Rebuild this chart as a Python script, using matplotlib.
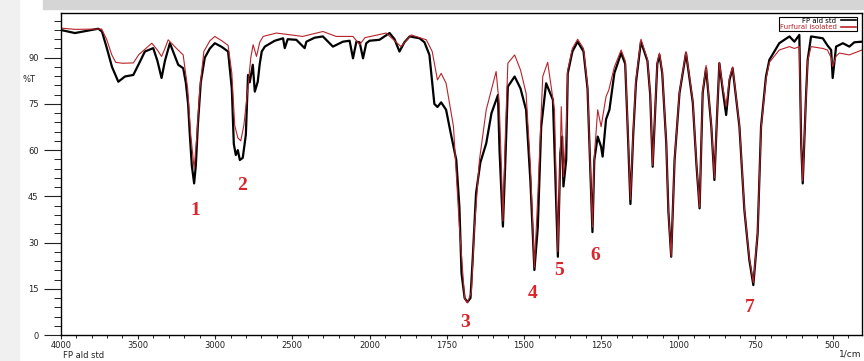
#FTIR spectrum, FP ald std vs isolated sample
#Wavenumber axis with the usual 2x scale change at 2000 1/cm

import matplotlib
matplotlib.use('Agg')
import matplotlib.pyplot as plt
import numpy as np
from matplotlib.ticker import FixedLocator, MultipleLocator
from matplotlib.lines import Line2D
from matplotlib.patches import Rectangle

#Black spectrum (FP ald std): wavenumber (1/cm), transmittance (%T)
wn_black = [4000, 3908, 3757, 3733, 3702, 3668, 3627, 3584, 3530, 3494, 3455, 3401, 3374, 3347,
            3325, 3293, 3239, 3207, 3190, 3175, 3164, 3151, 3136, 3125, 3112, 3093, 3067, 3034,
            3002, 2957, 2916, 2892, 2879, 2866, 2853, 2840, 2821, 2801, 2787, 2776, 2756, 2743,
            2724, 2711, 2698, 2678, 2614, 2560, 2549, 2530, 2474, 2420, 2409, 2355, 2302, 2237,
            2172, 2129, 2107, 2085, 2064, 2042, 2021, 2000, 1968, 1935, 1919, 1903, 1887, 1870,
            1838, 1822, 1806, 1790, 1780, 1768, 1752, 1738, 1719, 1709, 1702, 1692, 1683, 1673,
            1666, 1655, 1641, 1622, 1605, 1584, 1579, 1568, 1560, 1552, 1530, 1511, 1493, 1479,
            1466, 1455, 1444, 1428, 1406, 1395, 1390, 1382, 1376, 1372, 1363, 1358, 1343, 1326,
            1307, 1294, 1288, 1278, 1272, 1261, 1250, 1245, 1234, 1223, 1207, 1185, 1172, 1165,
            1155, 1146, 1137, 1121, 1100, 1091, 1083, 1074, 1068, 1061, 1052, 1039, 1032, 1023,
            1012, 996, 975, 953, 941, 931, 921, 910, 893, 883, 875, 867, 856, 845,
            834, 824, 802, 786, 770, 757, 743, 732, 716, 705, 673, 640, 624, 608,
            602, 597, 586, 581, 570, 532, 517, 505, 500, 489, 467, 446, 430, 405]
t_black = [99.0, 98.0, 99.4, 98.5, 93.2, 87.0, 82.2, 83.9, 84.4, 88.0, 92.0, 93.1, 89.0, 83.4,
           89.0, 94.7, 87.7, 86.6, 82.0, 75.0, 65.0, 55.0, 49.2, 55.0, 68.0, 82.0, 90.0, 93.0,
           94.7, 93.5, 92.0, 80.0, 62.0, 58.4, 60.0, 56.8, 57.5, 65.0, 84.4, 82.0, 87.7, 79.0,
           82.2, 88.0, 92.0, 93.6, 95.5, 96.3, 93.1, 96.0, 95.8, 93.1, 95.2, 96.5, 96.9, 93.6,
           95.2, 95.5, 89.8, 95.2, 95.0, 89.8, 94.7, 95.5, 95.8, 98.0, 96.0, 92.0, 95.0, 96.9,
           96.3, 95.0, 90.9, 75.0, 74.0, 75.5, 73.1, 66.0, 56.8, 41.7, 20.0, 12.0, 10.7, 12.0,
           24.4, 46.0, 56.0, 62.2, 72.0, 77.9, 60.0, 35.2, 56.8, 80.6, 83.9, 80.0, 73.1, 50.0,
           21.1, 35.0, 67.6, 81.7, 76.3, 40.6, 25.4, 59.0, 64.4, 48.2, 56.8, 84.9, 92.0, 95.2,
           92.0, 80.0, 62.3, 33.4, 56.8, 64.4, 61.1, 57.9, 70.0, 73.1, 85.0, 91.5, 88.0, 70.0,
           42.5, 65.0, 82.0, 95.2, 89.0, 78.0, 54.6, 75.0, 88.0, 90.9, 85.0, 62.3, 40.0, 25.4,
           56.8, 78.6, 91.5, 75.4, 55.0, 41.1, 78.6, 86.6, 67.6, 50.3, 70.0, 88.2, 79.5, 71.4,
           82.8, 86.6, 67.6, 40.6, 24.4, 16.2, 33.0, 67.6, 83.9, 89.3, 94.7, 96.9, 95.2, 97.4,
           62.2, 49.2, 78.5, 89.3, 96.9, 96.3, 94.0, 92.5, 83.4, 93.6, 94.7, 93.6, 95.0, 95.2]

#Red spectrum (isolated product)
wn_red = [4000, 3908, 3735, 3703, 3670, 3644, 3600, 3530, 3494, 3410, 3374, 3347, 3325, 3304,
          3250, 3207, 3178, 3158, 3136, 3118, 3099, 3073, 3034, 3002, 2957, 2916, 2892, 2873,
          2853, 2834, 2814, 2788, 2769, 2754, 2732, 2711, 2689, 2603, 2433, 2302, 2216, 2107,
          2064, 2030, 1946, 1898, 1865, 1816, 1797, 1786, 1780, 1768, 1752, 1728, 1709, 1692,
          1683, 1670, 1660, 1644, 1622, 1590, 1580, 1573, 1568, 1560, 1552, 1530, 1511, 1493,
          1479, 1466, 1455, 1439, 1423, 1401, 1390, 1383, 1379, 1372, 1363, 1358, 1343, 1326,
          1307, 1294, 1288, 1278, 1272, 1261, 1250, 1234, 1225, 1207, 1185, 1172, 1165, 1155,
          1146, 1137, 1121, 1100, 1091, 1083, 1074, 1068, 1061, 1052, 1039, 1032, 1023, 1012,
          996, 975, 953, 941, 931, 921, 910, 893, 883, 875, 867, 856, 845, 834,
          824, 802, 786, 770, 757, 743, 732, 716, 705, 673, 640, 624, 608, 602,
          597, 586, 581, 570, 532, 517, 505, 500, 489, 478, 446, 405]
t_red = [99.6, 99.2, 99.3, 96.0, 91.0, 88.5, 88.2, 88.3, 91.0, 94.7, 92.5, 90.4, 93.0, 95.8,
         93.0, 90.9, 80.0, 65.0, 54.0, 65.0, 80.0, 92.0, 95.5, 96.9, 95.5, 94.0, 85.0, 68.0,
         64.0, 63.0, 68.0, 80.0, 90.0, 94.2, 90.4, 95.0, 96.9, 98.0, 96.9, 98.5, 96.9, 96.9,
         94.2, 96.5, 98.0, 93.6, 97.4, 95.8, 92.0, 86.0, 82.8, 84.9, 81.7, 67.6, 35.2, 12.0,
         10.4, 14.0, 35.2, 56.8, 73.1, 85.5, 75.0, 55.0, 37.0, 65.0, 88.2, 90.9, 86.0, 78.5,
         55.0, 22.0, 45.0, 83.9, 88.5, 73.1, 27.0, 55.0, 74.1, 51.4, 65.0, 86.0, 93.0, 96.0,
         93.0, 81.0, 63.0, 35.0, 58.0, 73.1, 67.6, 77.4, 79.5, 87.0, 92.5, 89.0, 71.0, 44.0,
         66.0, 83.0, 96.0, 89.5, 78.5, 55.0, 75.5, 88.5, 91.5, 85.5, 62.5, 40.0, 25.5, 57.0,
         79.0, 92.0, 76.0, 55.5, 41.5, 79.0, 87.5, 68.0, 51.0, 70.5, 88.5, 80.5, 74.0, 83.5,
         87.0, 68.0, 41.0, 25.0, 17.0, 33.5, 67.0, 83.0, 88.5, 92.5, 93.6, 93.0, 93.6, 62.0,
         50.0, 78.0, 89.0, 93.6, 93.0, 92.5, 90.0, 87.1, 90.5, 91.5, 90.9, 92.5]

#Numbered peaks: label, wavenumber, %T where the label sits
peak_labels = ['1', '2', '3', '4', '5', '6', '7']
peak_wn = [3131, 2828, 1692, 1472, 1385, 1268, 770]
peak_t = [40.3, 48.4, 4.2, 13.6, 20.8, 25.7, 8.8]

x_major = [4000, 3500, 3000, 2500, 2000, 1750, 1500, 1250, 1000, 750, 500]
x_minor = list(range(3900, 2000, -100)) + list(range(1950, 400, -50))

red = '#b8232a'

#Scale change: half the scale above 2000 1/cm
def forward(w):
    w = np.asarray(w, dtype=float)
    return np.where(w > 2000, 2000 + (w - 2000)/2, w)

def inverse(u):
    u = np.asarray(u, dtype=float)
    return np.where(u > 2000, 2000 + (u - 2000)*2, u)

fig = plt.figure(figsize=(8.64, 3.61), dpi=100)
#grey page remnants around the figure
fig.patches.append(Rectangle((0.05, 0.975), 0.95, 0.025, transform=fig.transFigure,
                             color='#d5d5d5', zorder=0))
fig.patches.append(Rectangle((0.0, 0.0), 0.022, 1.0, transform=fig.transFigure,
                             color='#f0f0f0', zorder=0))

ax = fig.add_axes([0.0703, 0.072, 0.9274, 0.8928])
ax.set_xscale('function', functions=(forward, inverse))

ax.plot(wn_black, t_black, color='black', lw=1.6, label='FP ald std')
ax.plot(wn_red, t_red, color=red, lw=0.8, label='Furfural isolated')

for lab, w, t in zip(peak_labels, peak_wn, peak_t):
    ax.text(w, t, lab, color='#d8262c', fontsize=14, fontweight='bold',
            family='Liberation Serif', ha='center', va='center')

ax.set_xlim(4000, 405)
ax.set_ylim(0, 104.6)
ax.xaxis.set_major_locator(FixedLocator(x_major))
ax.xaxis.set_minor_locator(FixedLocator(x_minor))
ax.set_xticklabels([str(v) for v in x_major])
ax.yaxis.set_major_locator(FixedLocator([0, 15, 30, 45, 60, 75, 90]))
ax.yaxis.set_minor_locator(MultipleLocator(3))

ax.tick_params(axis='both', which='major', labelsize=6, direction='out', colors='#222222')
ax.tick_params(axis='y', which='major', length=12, pad=4)
ax.tick_params(axis='y', which='minor', length=5)
ax.tick_params(axis='x', which='major', length=3, pad=1)
ax.tick_params(axis='x', which='minor', length=2)
for s in ax.spines.values():
    s.set_linewidth(1.0)

fig.text(29/864, 1 - 79/361, '%T', fontsize=6, ha='center', va='center', color='#222222')
fig.text(63/864, 1 - 356/361, 'FP ald std', fontsize=6, ha='left', va='center', color='#222222')
fig.text(861/864, 1 - 354/361, '1/cm', fontsize=6.5, ha='right', va='center', color='#222222')

handles = [Line2D([], [], color='black', lw=1.2), Line2D([], [], color=red, lw=1.2)]
leg = ax.legend(handles, ['FP ald std', 'Furfural isolated'], loc='upper right',
                fontsize=5, markerfirst=False, handlelength=2.2, borderpad=0.15,
                labelspacing=0.05, handletextpad=0.6, fancybox=False, framealpha=1,
                edgecolor='black', bbox_to_anchor=(0.998, 0.998), labelcolor=['black', red])
leg.get_frame().set_linewidth(0.8)

fig.savefig('out.png', dpi=100)
